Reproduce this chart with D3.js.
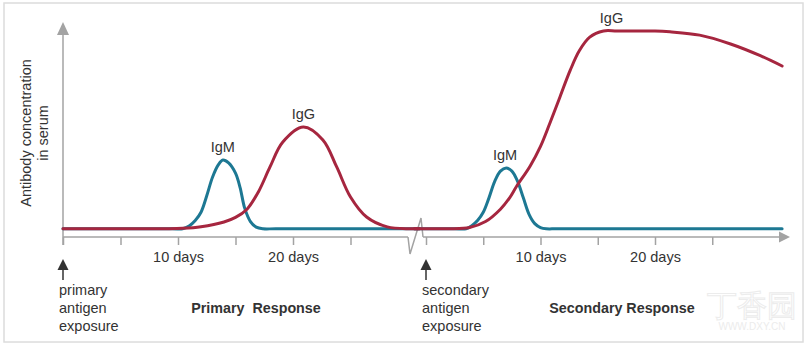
<!DOCTYPE html>
<html>
<head>
<meta charset="utf-8">
<script src="https://cdn.jsdelivr.net/npm/d3@7"></script>
<style>
  body { margin: 0; background: #fff; }
  #chart { width: 811px; height: 347px; }
  text { font-family: "Liberation Sans", Arial, sans-serif; fill: #333; }
</style>
</head>
<body>
<div id="chart"></div>
<script>

// [day, concentration] (0 = axis, 100 = top plateau)
const primaryIgM = [[0,4],[9.5,4],[10.4,4],[11,5.5],[11.5,8],[12,12],[12.5,20],[13,29],[13.5,35],[13.9,37.4],
  [14.4,36],[15,31],[15.4,24],[15.8,14],[16.3,7.5],[16.8,4.8],[17.4,4],[18.5,4],[31,4]];
const primaryIgG = [[0,4],[9,4],[10.4,4.2],[12,5],[14,7.3],[15,9.5],[16,13.5],[17,22],[18,34],[19.1,46],[20.9,53.4],
  [22.6,47.1],[23.8,34],[25,19.4],[26.4,9.7],[28.2,4.9],[30.2,4],[31,4]];
const secondaryIgM = [[-1,4],[2.5,4],[3.5,4],[4,5.5],[4.5,8],[5,12],[5.5,19],[6,27],[6.5,32],[7,33.5],[7.5,32],
  [8,27],[8.5,19],[9,11],[9.5,6.5],[10,4.6],[10.5,4],[11.5,4],[31.1,4]];
const secondaryIgG = [[-1,4],[1,4],[2.1,4],[3.8,4.6],[5.2,7.5],[6.5,13.5],[7.3,19],[7.9,24.5],[9.1,34.5],[10,44],[10.8,55],
  [11.7,68],[12.6,81],[13.4,90.5],[14.3,97],[15.5,100],[16.7,100],[20,100],[21.3,99.6],[23.9,98],[26.6,93.7],[29.2,88],[31.1,83]];

const tickDays = [0, 5, 10, 15, 20, 25];
const labelledDays = [10, 20];
const peakLabels = [
  {phase: "primary", name: "IgM", day: 13.9, value: 37.4},
  {phase: "primary", name: "IgG", day: 20.9, value: 53.4},
  {phase: "secondary", name: "IgM", day: 6.9, value: 33.5},
  {phase: "secondary", name: "IgG", day: 16.2, value: 100}
];
const exposureText = {primary: ["primary", "antigen", "exposure"], secondary: ["secondary", "antigen", "exposure"]};
const responseText = {primary: "Primary  Response", secondary: "Secondary Response"};

const width = 811, height = 347;
const svg = d3.select("#chart").append("svg")
    .attr("width", width)
    .attr("height", height);

const teal = "#1d7893";
const red = "#a6263f";
const axisGrey = "#a3a3a3";
const fs = 14.5;

// frame
svg.append("rect")
    .attr("x", 4).attr("y", 3)
    .attr("width", 799).attr("height", 339)
    .attr("fill", "none")
    .attr("stroke", "#dcdcdc")
    .attr("stroke-width", 1.5);

const x = {
  primary: d3.scaleLinear().domain([0, 30]).range([63, 408]),
  secondary: d3.scaleLinear().domain([0, 30]).range([426, 769.5])
};
const y = d3.scaleLinear().domain([0, 100]).range([237, 31]);
const axisY = y(0);

// axes
["primary", "secondary"].forEach(function(p) {
  const ax = svg.append("g")
      .attr("transform", "translate(0," + axisY + ")")
      .call(d3.axisBottom(x[p])
        .tickValues(tickDays)
        .tickSize(8)
        .tickPadding(7)
        .tickFormat(d => labelledDays.includes(d) ? d + " days" : ""));
  ax.select(".domain").remove();
  ax.selectAll(".tick line").attr("stroke", axisGrey).attr("stroke-width", 1.5);
  ax.selectAll(".tick text")
      .attr("font-size", fs)
      .attr("font-family", "Liberation Sans, Arial, sans-serif")
      .attr("fill", "#333");
});

const g = svg.append("g").attr("stroke", axisGrey).attr("stroke-width", 1.5).attr("fill", "none");
g.append("line").attr("x1", x.primary(0)).attr("x2", 408).attr("y1", axisY).attr("y2", axisY);
g.append("path").attr("d", "M408," + axisY + "L410,254L421,218L423," + axisY);
g.append("line").attr("x1", 423).attr("x2", 782).attr("y1", axisY).attr("y2", axisY);
g.append("line").attr("x1", x.primary(0)).attr("x2", x.primary(0)).attr("y1", axisY + 8).attr("y2", 34);

svg.append("path")
    .attr("d", "M790," + axisY + "L779," + (axisY - 5.5) + "L779," + (axisY + 5.5) + "Z")
    .attr("fill", axisGrey);
svg.append("path")
    .attr("d", "M63,22L57,35L69,35Z")
    .attr("fill", axisGrey);

// y label
const yl = svg.append("text")
    .attr("transform", "translate(31,133) rotate(-90)")
    .attr("text-anchor", "middle")
    .attr("font-size", fs);
yl.append("tspan").attr("x", 0).attr("dy", 0).text("Antibody concentration");
yl.append("tspan").attr("x", 0).attr("dy", 17).text("in serum");

// curves
function line(p) {
  return d3.line()
      .x(d => x[p](d[0]))
      .y(d => y(d[1]))
      .curve(d3.curveCatmullRom.alpha(0.5));
}

const curves = [
  {p: "primary", data: primaryIgM, color: teal},
  {p: "secondary", data: secondaryIgM, color: teal},
  {p: "primary", data: primaryIgG, color: red},
  {p: "secondary", data: secondaryIgG, color: red}
];
svg.append("g")
  .selectAll("path")
  .data(curves)
  .join("path")
    .attr("d", d => line(d.p)(d.data))
    .attr("fill", "none")
    .attr("stroke", d => d.color)
    .attr("stroke-width", 3)
    .attr("stroke-linecap", "round");

svg.append("g")
  .selectAll("text")
  .data(peakLabels)
  .join("text")
    .attr("x", d => x[d.phase](d.day))
    .attr("y", d => y(d.value) - 8)
    .attr("text-anchor", "middle")
    .attr("font-size", fs)
    .text(d => d.name);

// exposure arrows and texts
["primary", "secondary"].forEach(function(p) {
  const x0 = x[p](0);
  svg.append("line")
      .attr("x1", x0).attr("x2", x0)
      .attr("y1", 268).attr("y2", 280)
      .attr("stroke", "#333").attr("stroke-width", 1.5);
  svg.append("path")
      .attr("d", "M" + x0 + ",259L" + (x0 - 5.5) + ",270L" + (x0 + 5.5) + ",270Z")
      .attr("fill", "#333");
  svg.append("g")
    .selectAll("text")
    .data(exposureText[p])
    .join("text")
      .attr("x", x0 - 4)
      .attr("y", (d, i) => 295 + i * 18)
      .attr("font-size", fs)
      .text(d => d);
});

svg.append("text")
    .attr("x", 256).attr("y", 313)
    .attr("text-anchor", "middle")
    .attr("font-size", 14.3).attr("font-weight", "bold")
    .style("white-space", "pre")
    .text(responseText.primary);
svg.append("text")
    .attr("x", 622).attr("y", 313)
    .attr("text-anchor", "middle")
    .attr("font-size", 14.3).attr("font-weight", "bold")
    .text(responseText.secondary);

// faint watermark
svg.append("text")
    .attr("x", 752).attr("y", 316)
    .attr("text-anchor", "middle")
    .attr("font-size", 30)
    .attr("font-family", "Noto Sans CJK SC")
    .style("fill", "none")
    .attr("stroke", "#ececec")
    .text("丁香园");
svg.append("text")
    .attr("x", 752).attr("y", 330)
    .attr("text-anchor", "middle")
    .attr("font-size", 10)
    .style("fill", "#ececec")
    .text("WWW.DXY.CN");

</script>
</body>
</html>
